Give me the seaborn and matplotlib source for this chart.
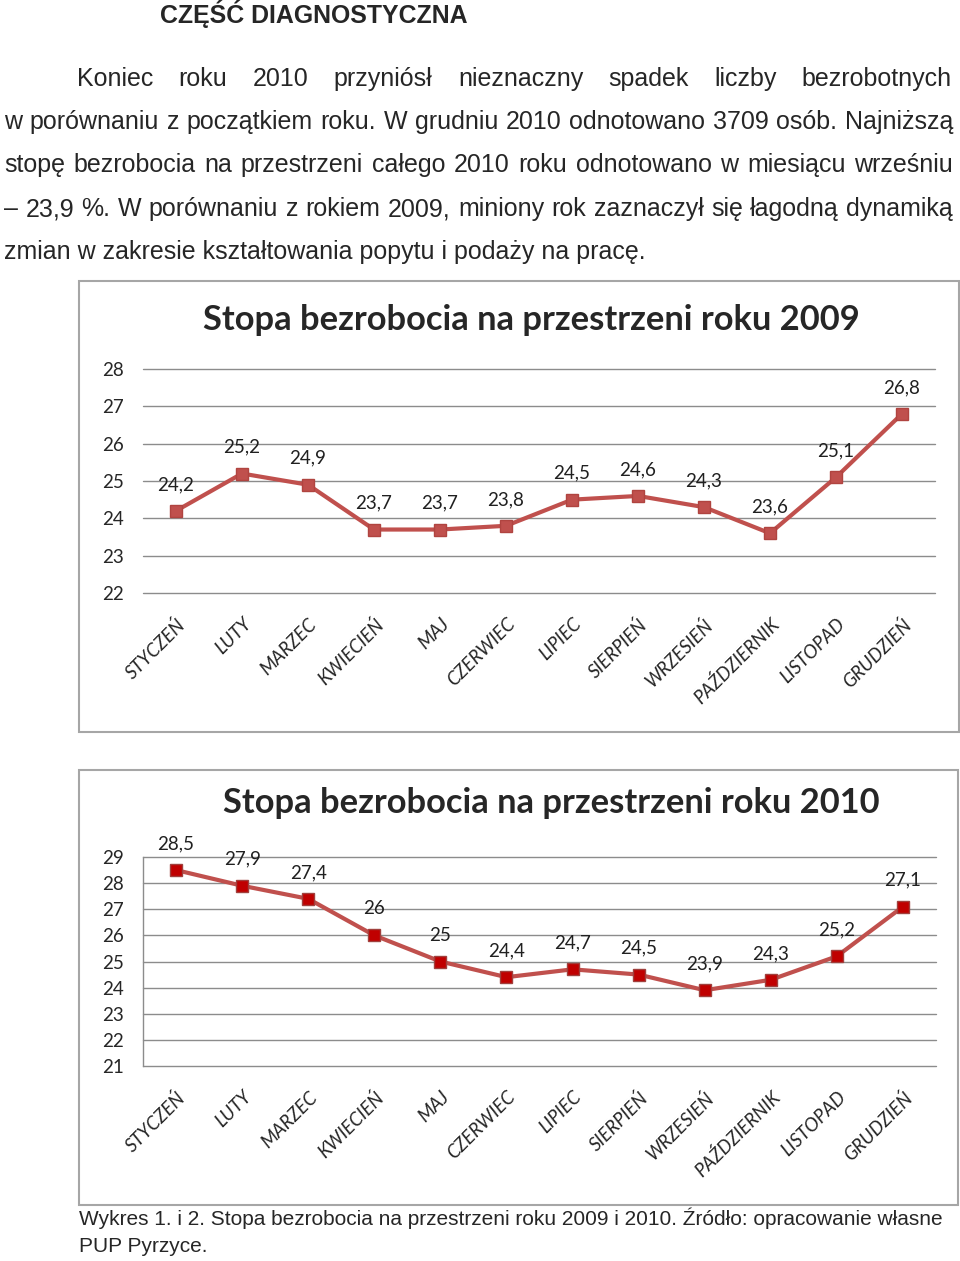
import numpy as np
import pandas as pd
import matplotlib
matplotlib.use("Agg")
import matplotlib.pyplot as plt
import seaborn as sns
from matplotlib.patches import Rectangle

# %% data
months = ["STYCZEŃ", "LUTY", "MARZEC", "KWIECIEŃ", "MAJ", "CZERWIEC", "LIPIEC",
          "SIERPIEŃ", "WRZESIEŃ", "PAŹDZIERNIK", "LISTOPAD", "GRUDZIEŃ"]
rate_2009 = [24.2, 25.2, 24.9, 23.7, 23.7, 23.8, 24.5, 24.6, 24.3, 23.6, 25.1, 26.8]
rate_2010 = [28.5, 27.9, 27.4, 26.0, 25.0, 24.4, 24.7, 24.5, 23.9, 24.3, 25.2, 27.1]

heading = "CZĘŚĆ DIAGNOSTYCZNA"
body = ["Koniec roku 2010 przyniósł nieznaczny spadek liczby bezrobotnych",
        "w porównaniu z początkiem roku. W grudniu 2010 odnotowano 3709 osób. Najniższą",
        "stopę bezrobocia na przestrzeni całego 2010 roku odnotowano w miesiącu wrześniu",
        "– 23,9 %. W porównaniu z rokiem 2009, miniony rok zaznaczył się łagodną dynamiką",
        "zmian w zakresie kształtowania popytu i podaży na pracę."]
caption = ["Wykres 1. i 2. Stopa bezrobocia na przestrzeni roku 2009 i 2010. Źródło: opracowanie własne",
           "PUP Pyrzyce."]

W, H = 960, 1261
LINE = "#C0504D"
GRID = "#8C8C8C"
DOC = "Liberation Sans"
CHART = "Lato"

sns.set_style("white")
plt.rcParams['font.family'] = [DOC, 'DejaVu Sans']

fig = plt.figure(figsize=(W / 100, H / 100), dpi=100)
fig.patch.set_facecolor("white")
renderer = fig.canvas.get_renderer()


def fx(x):
    return x / W


def fy(y):
    return 1 - y / H


# %% document text
def fit_size(text, width, base=16, **kw):
    t = fig.text(0, 0, text, fontsize=base, **kw)
    w = t.get_window_extent(renderer).width
    t.remove()
    return base * width / w


def justify(line, x0, x1, y, size):
    words = line.split()
    texts = [fig.text(0, fy(y), w, fontsize=size, va="center") for w in words]
    widths = [t.get_window_extent(renderer).width for t in texts]
    gap = (x1 - x0 - sum(widths)) / (len(words) - 1)
    x = x0
    for t, w in zip(texts, widths):
        t.set_x(fx(x))
        x += w + gap


hsize = fit_size(heading, 308, weight="bold")
fig.text(fx(160), fy(14), heading, fontsize=hsize, weight="bold", va="center")

bsize = fit_size(body[4], 643)
justify(body[0], 77, 952, 79, bsize)
justify(body[1], 4, 953, 122, bsize)
justify(body[2], 4, 953, 165, bsize)
justify(body[3], 4, 953, 209, bsize)
fig.text(fx(4), fy(252), body[4], fontsize=bsize, va="center")

csize = fit_size(caption[0], 864)
fig.text(fx(79), fy(1218), caption[0], fontsize=csize, va="center")
fig.text(fx(79), fy(1246), caption[1], fontsize=csize, va="center")

# chart frames
for x0, y0, x1, y1 in [(79, 281, 959, 732), (79, 770, 958, 1205)]:
    fig.patches.append(Rectangle((fx(x0), fy(y1)), (x1 - x0) / W, (y1 - y0) / H,
                                 transform=fig.transFigure, fill=False,
                                 ec="#A6A6A6", lw=1.5))


# %% charts
def draw_chart(box, values, ymin, ymax, title, title_pos, mface, medge, left_spine):
    x0, yt, x1, yb = box
    ax = fig.add_axes([fx(x0), fy(yb), (x1 - x0) / W, (yb - yt) / H])
    df = pd.DataFrame({"miesiac": months, "stopa": values})
    sns.lineplot(data=df, x="miesiac", y="stopa", ax=ax, sort=False, color=LINE,
                 lw=3, marker="s", markersize=8, markerfacecolor=mface,
                 markeredgecolor=medge, markeredgewidth=1)
    ax.set_xlim(-0.5, 11.5)
    ax.set_ylim(ymin, ymax)
    ax.set_yticks(range(ymin, ymax + 1))
    ax.grid(axis="y", color=GRID, lw=1)
    for gl in ax.get_ygridlines():
        gl.set_clip_on(False)
    ax.set_axisbelow(True)
    for s in ["top", "right", "bottom", "left"]:
        ax.spines[s].set_visible(False)
    if left_spine:
        ax.spines["left"].set_visible(True)
        ax.spines["left"].set_color(GRID)
        ax.spines["left"].set_linewidth(1)
    ax.set_xlabel("")
    ax.set_ylabel("")
    ax.tick_params(axis="y", length=0, pad=14, labelsize=13.5)
    ax.tick_params(axis="x", length=0, pad=16)
    for lab in ax.get_yticklabels():
        lab.set_family(CHART)
    ax.set_xticks(range(len(months)))
    ax.set_xticklabels(months, rotation=45, ha="right", rotation_mode="anchor",
                       fontsize=13.5, style="italic", family=CHART)
    for i, v in enumerate(values):
        lbl = f"{v:g}".replace(".", ",")
        ax.annotate(lbl, (i, v), xytext=(0, 19), textcoords="offset points",
                    ha="center", va="center", fontsize=13.5, family=CHART,
                    color="#202020")
    fig.text(fx(title_pos[0]), fy(title_pos[1]), title, fontsize=24.8, weight="bold",
             family=CHART, ha="center", va="center")
    return ax


draw_chart((143, 369, 935, 593), rate_2009, 22, 28,
           "Stopa bezrobocia na przestrzeni roku 2009", (531, 320),
           LINE, "#B04440", False)
draw_chart((143, 857, 936, 1066), rate_2010, 21, 29,
           "Stopa bezrobocia na przestrzeni roku 2010", (551, 803),
           "#C00000", "#A0403D", True)

fig.savefig("out.png", dpi=100, facecolor="white")
